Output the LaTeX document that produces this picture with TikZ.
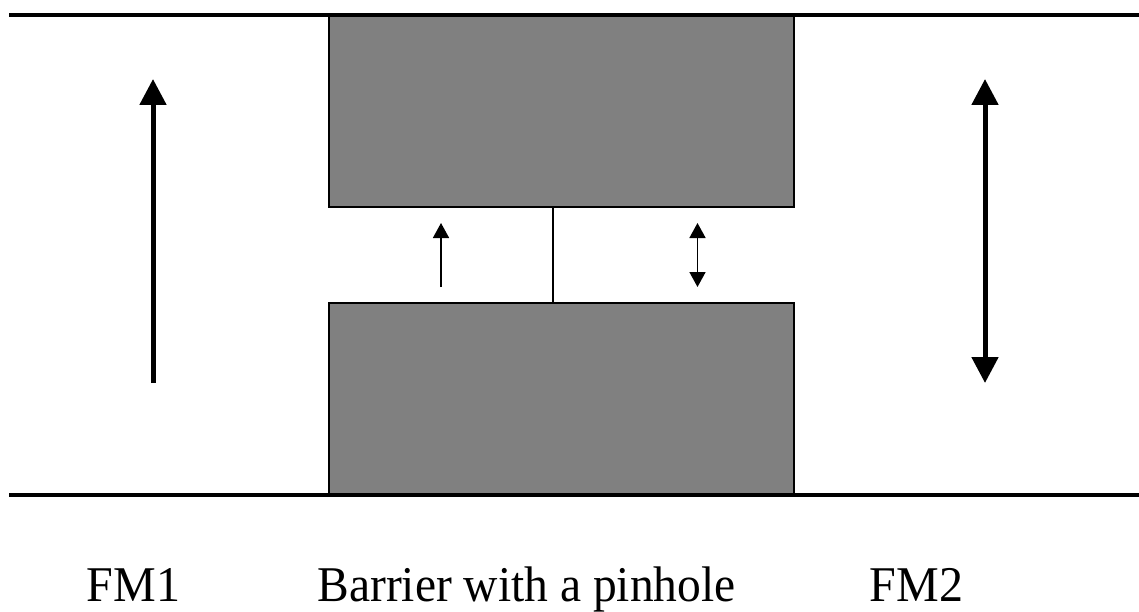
\documentclass[tikz,border=0pt]{standalone}
\usepackage{fontspec}
\setmainfont{Liberation Serif}
\usetikzlibrary{arrows.meta}
\definecolor{barriergray}{RGB}{128,128,128}
\tikzset{
  rail/.style={line width=4.7pt},
  barrier/.style={draw=black, fill=barriergray, line width=1.5pt, rectangle,
    minimum width=465pt, minimum height=192pt, inner sep=0pt, outer sep=0pt},
  bigspin/.style={line width=5pt, -{Triangle[length=26pt,width=26pt]}},
  bigspinboth/.style={line width=5pt, {Triangle[length=26pt,width=26pt]}-{Triangle[length=26pt,width=26pt]}},
  smallspin/.style={line width=1.6pt, -{Triangle[length=15pt,width=16pt]}},
  smallspinboth/.style={line width=1.6pt, {Triangle[length=15pt,width=16pt]}-{Triangle[length=15pt,width=16pt]}},
  pinhole/.style={line width=1.5pt},
  label/.style={anchor=base, inner sep=0pt, font=\fontsize{50}{60}\selectfont}
}
\begin{document}
\begin{tikzpicture}[x=1pt, y=-1pt]
  \useasboundingbox (0,0) rectangle (1139,612);

  % barrier blocks
  \node[barrier, anchor=north west] (upper) at (329,15) {};
  \node[barrier, anchor=south west] (lower) at (329,495) {};

  % electrode rails
  \coordinate (railTL) at (9,15);
  \coordinate (railTR) at (1139,15);
  \coordinate (railBL) at (9,495);
  \coordinate (railBR) at (1139,495);
  \draw[rail] (railTL) -- (railTR);
  \draw[rail] (railBL) -- (railBR);

  % pinhole through the barrier
  \draw[pinhole] (upper.south -| 553,0) -- (lower.north -| 553,0);

  % magnetisation of FM1 and FM2
  \coordinate (fm1tail) at (153,383);
  \coordinate (fm1tip) at (153,79);
  \coordinate (fm2a) at (985,79);
  \coordinate (fm2b) at (985,383);
  \draw[bigspin] (fm1tail) -- (fm1tip);
  \draw[bigspinboth] (fm2a) -- (fm2b);

  % spin states at the pinhole
  \coordinate (s1tail) at (441,287);
  \coordinate (s1tip) at (441,223);
  \coordinate (s2a) at (697.5,223);
  \coordinate (s2b) at (697.5,287);
  \draw[smallspin] (s1tail) -- (s1tip);
  \draw[smallspinboth] (s2a) -- (s2b);

  % labels
  \node[label] (fm1) at (133.5,601) {\scalebox{0.96}[1]{FM1}};
  \node[label] (bar) at (526.5,601) {\scalebox{0.95}[1]{Barrier with a pinhole}};
  \node[label] (fm2) at (916.5,601) {\scalebox{0.96}[1]{FM2}};
\end{tikzpicture}
\end{document}
